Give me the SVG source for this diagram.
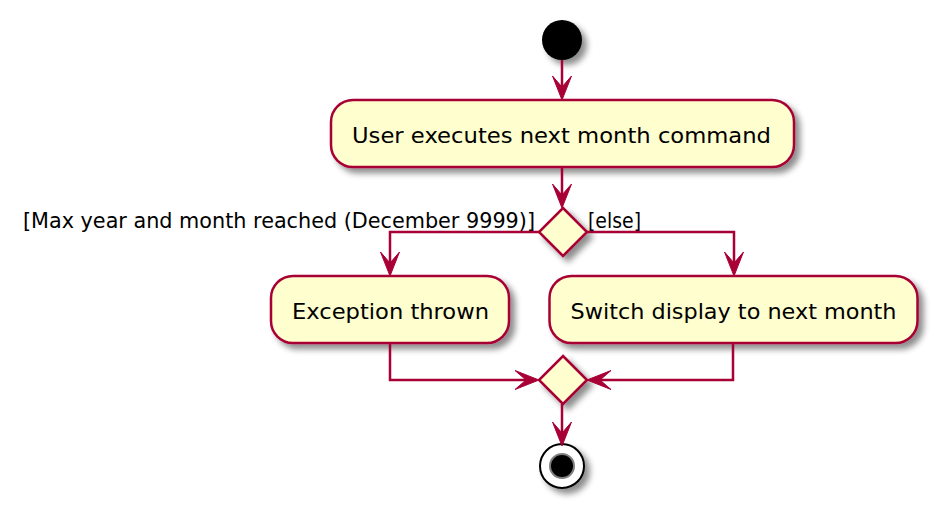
<svg xmlns="http://www.w3.org/2000/svg" width="937" height="508" viewBox="0 0 937 508">
<style>
.act{fill:#FEFECE;stroke:#A80036;stroke-width:2.5}
.dec{fill:#FEFECE;stroke:#A80036;stroke-width:2.5}
.ln{fill:none;stroke:#A80036;stroke-width:2.5}
.ah{fill:#A80036;stroke:#A80036;stroke-width:1}
text{font-family:"DejaVu Sans","Liberation Sans",sans-serif;font-size:22px;fill:#000}
</style>
<defs>
<filter id="sh" x="-20%" y="-20%" width="150%" height="150%">
<feGaussianBlur in="SourceAlpha" stdDeviation="3"/>
<feOffset dx="5" dy="5" result="b"/>
<feComponentTransfer><feFuncA type="linear" slope="0.45"/></feComponentTransfer>
<feMerge><feMergeNode/><feMergeNode in="SourceGraphic"/></feMerge>
</filter>
</defs>
<g id="start"><circle cx="562" cy="40" r="20" fill="#000" filter="url(#sh)"/></g>
<g id="act1"><rect class="act" x="331" y="100" width="463" height="67" rx="22" filter="url(#sh)"/><text x="352" y="143" textLength="419" lengthAdjust="spacingAndGlyphs">User executes next month command</text></g>
<g id="dec1"><polygon class="dec" points="563,208 587,232 563,256 539,232" filter="url(#sh)"/></g>
<g id="labels"><text x="23" y="228" textLength="512" lengthAdjust="spacingAndGlyphs">[Max year and month reached (December 9999)]</text><text x="588" y="228" textLength="53" lengthAdjust="spacingAndGlyphs">[else]</text></g>
<g id="act2"><rect class="act" x="271" y="276" width="238" height="67" rx="22" filter="url(#sh)"/><text x="292" y="318.5" textLength="197" lengthAdjust="spacingAndGlyphs">Exception thrown</text></g>
<g id="act3"><rect class="act" x="549.5" y="276" width="368" height="67" rx="22" filter="url(#sh)"/><text x="570.5" y="318.5" textLength="326" lengthAdjust="spacingAndGlyphs">Switch display to next month</text></g>
<g id="dec2"><polygon class="dec" points="563,356 587,380 563,404 539,380" filter="url(#sh)"/></g>
<g id="end"><circle cx="562" cy="466" r="22" fill="#fff" stroke="#000" stroke-width="2" filter="url(#sh)"/><circle cx="562" cy="466" r="12" fill="#000" stroke="#7f7f7f" stroke-width="2"/></g>
<g id="connectors">
<path class="ln" d="M562,60 V90"/>
<polygon class="ah" points="562,100 552.5,76 562,87 571.5,76"/>
<path class="ln" d="M562,167 V198"/>
<polygon class="ah" points="562,208 552.5,184 562,195 571.5,184"/>
<path class="ln" d="M539,232 H390 V266"/>
<polygon class="ah" points="390,276 380.5,252 390,263 399.5,252"/>
<path class="ln" d="M587,232 H734 V266"/>
<polygon class="ah" points="734,276 724.5,252 734,263 743.5,252"/>
<path class="ln" d="M390,343 V380 H529"/>
<polygon class="ah" points="539,380 515,370.5 526,380 515,389.5"/>
<path class="ln" d="M733,343 V380 H597"/>
<polygon class="ah" points="587,380 611,370.5 600,380 611,389.5"/>
<path class="ln" d="M562,404 V436"/>
<polygon class="ah" points="562,446 552.5,422 562,433 571.5,422"/>
</g>
</svg>
